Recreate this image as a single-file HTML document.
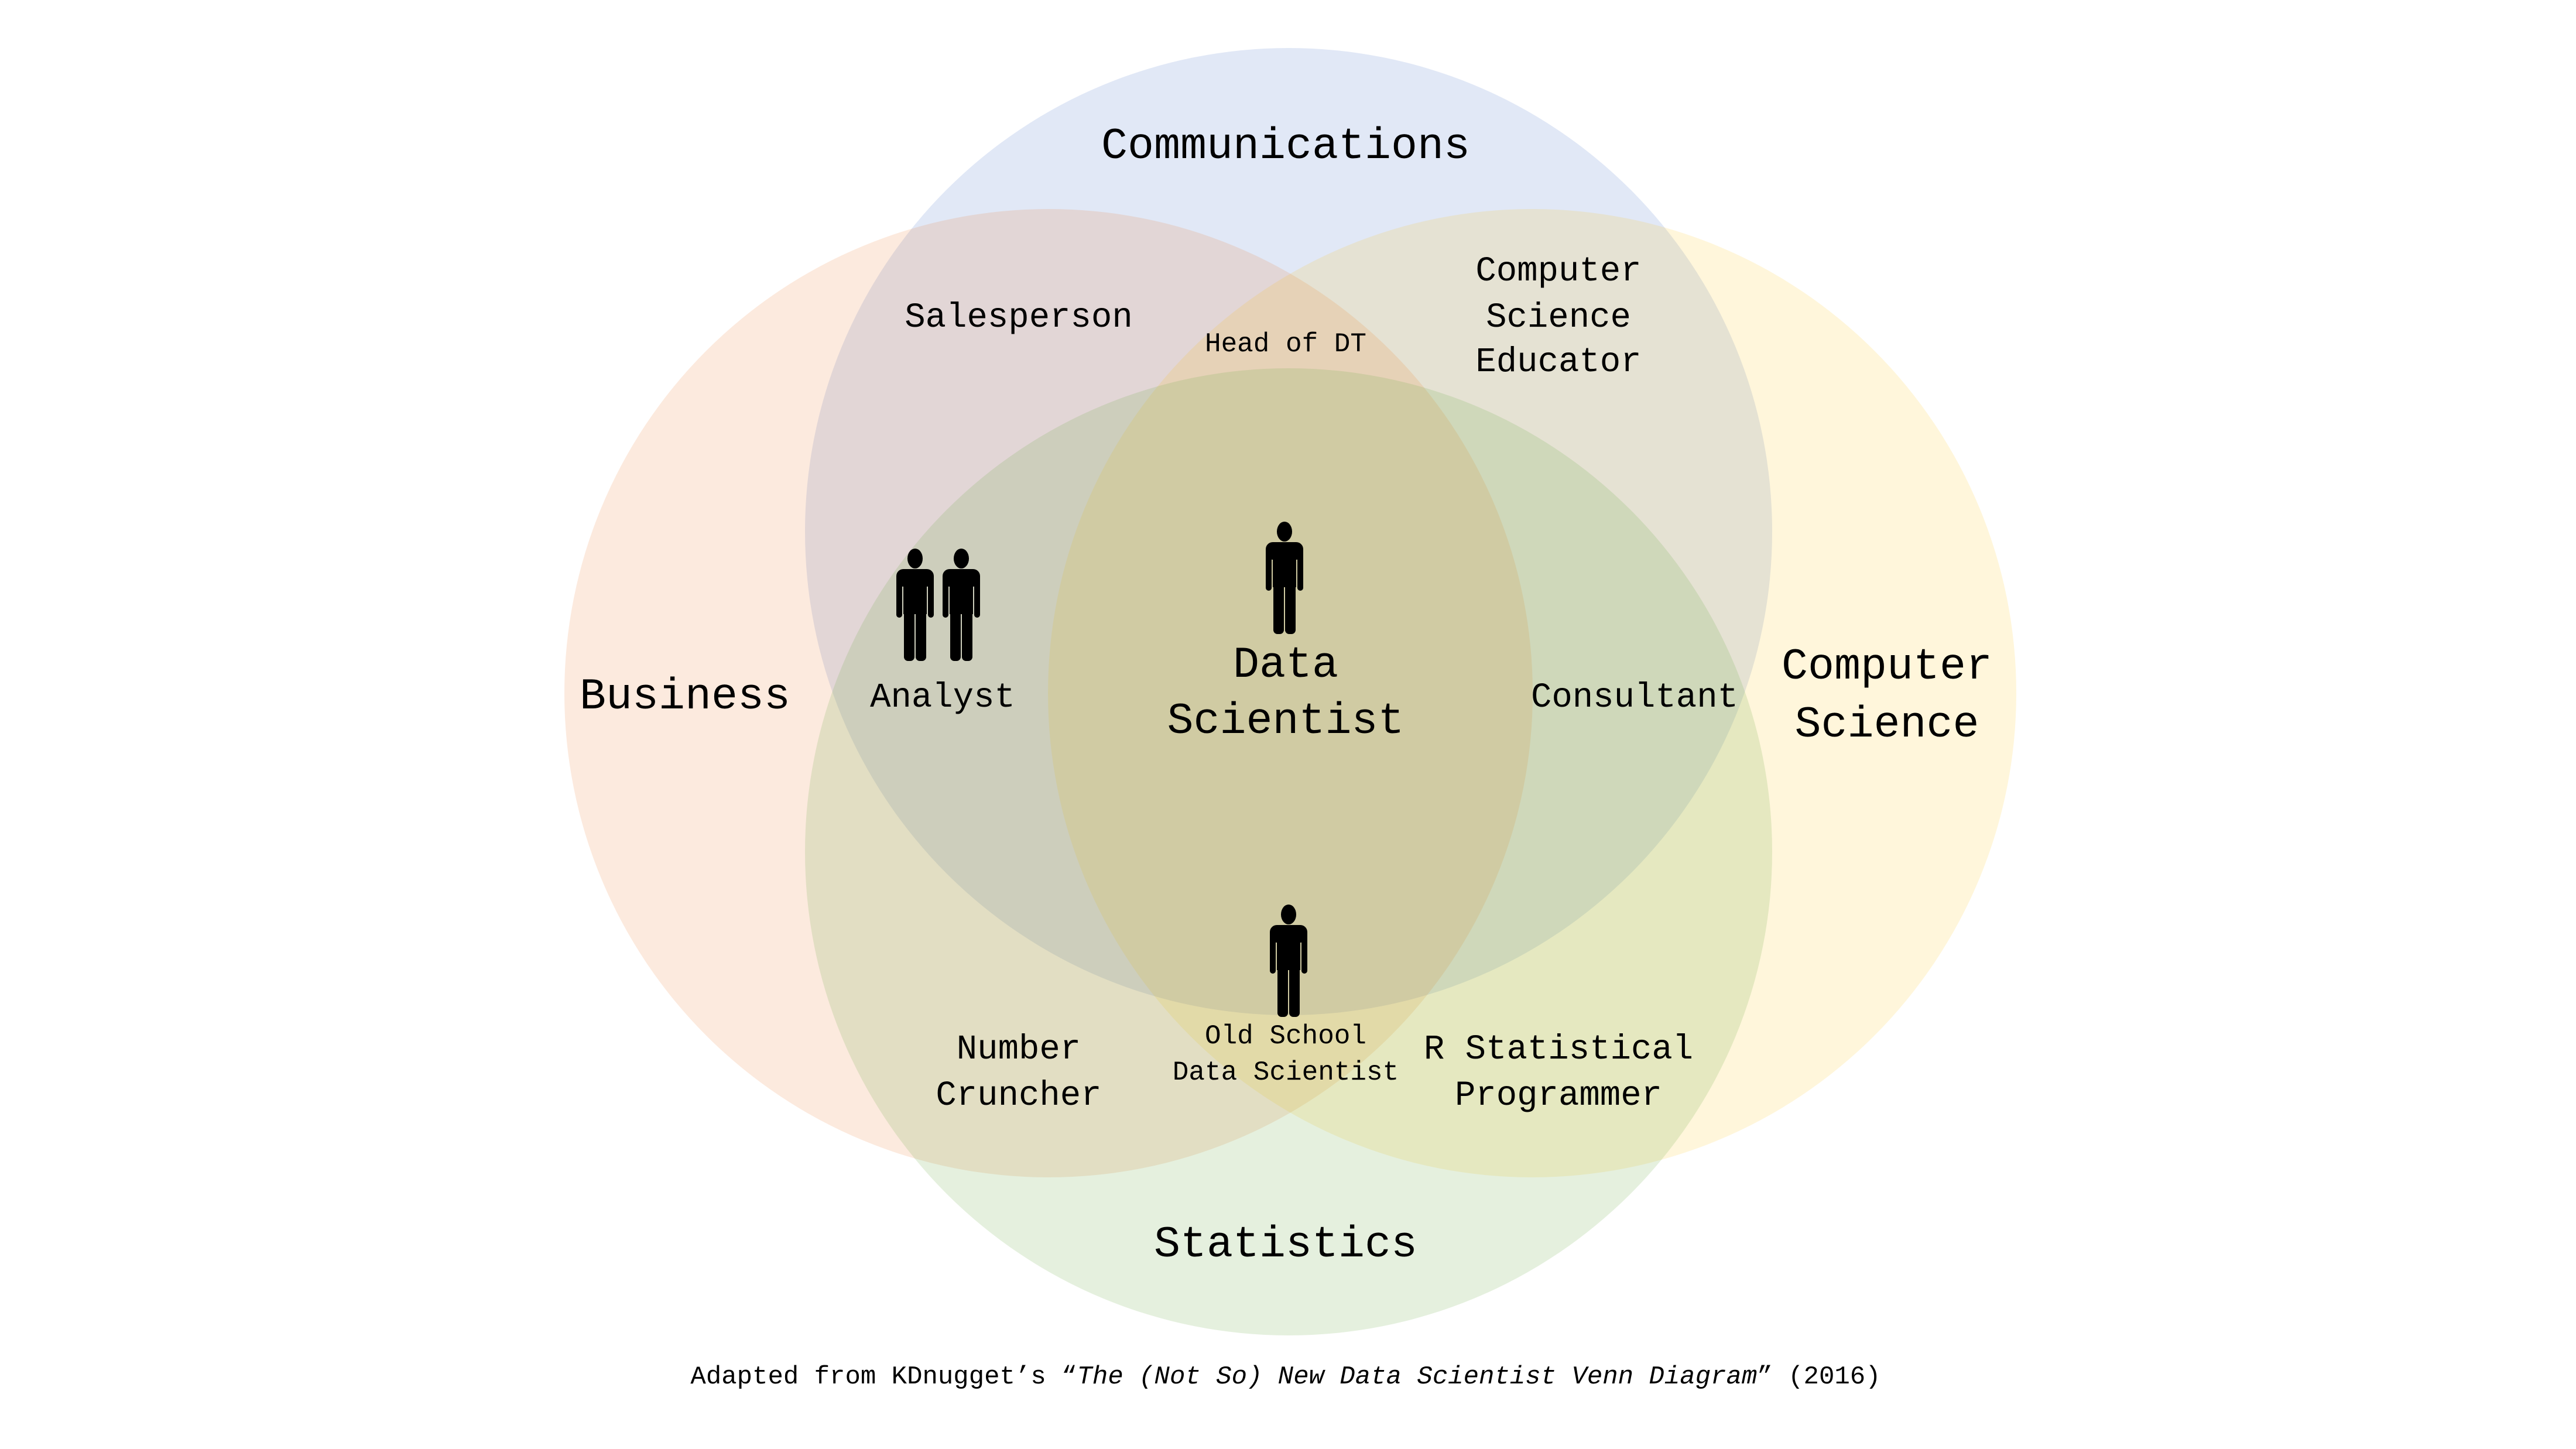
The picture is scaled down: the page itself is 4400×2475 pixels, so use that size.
<!DOCTYPE html>
<html><head><meta charset="utf-8"><style>
html,body{margin:0;padding:0;background:#fff}
svg{display:block}
text{font-family:"Liberation Mono","DejaVu Sans Mono",monospace;fill:#000;text-anchor:middle}
</style></head><body>
<svg width="4400" height="2475" viewBox="0 0 4400 2475" xmlns="http://www.w3.org/2000/svg">
<defs>
<g id="p">
<ellipse cx="32" cy="17" rx="13" ry="17"/>
<rect x="0" y="35" width="64" height="30" rx="12"/>
<rect x="12" y="40" width="40" height="72"/>
<rect x="0" y="45" width="10" height="73" rx="5"/>
<rect x="54" y="45" width="10" height="73" rx="5"/>
<rect x="13" y="100" width="18" height="92" rx="7"/>
<rect x="33" y="100" width="18" height="92" rx="7"/>
</g>
</defs>
<g transform="translate(-6,-6)">
<circle cx="2207" cy="914" r="826" fill="#4472c4" fill-opacity="0.16"/>
<circle cx="1797" cy="1190" r="827" fill="#ed7d31" fill-opacity="0.16"/>
<circle cx="2623" cy="1190" r="827" fill="#ffc000" fill-opacity="0.14"/>
<circle cx="2207" cy="1461" r="826" fill="#70ad47" fill-opacity="0.18"/>
<use href="#p" x="1537" y="943"/>
<use href="#p" x="1616" y="943"/>
<use href="#p" x="2168" y="897"/>
<use href="#p" x="2175" y="1551"/>
</g>
<g transform="translate(-12,-6)">
<text x="2208" y="276" font-size="75">Communications</text>
<text x="1752" y="564" font-size="59">Salesperson</text>
<text x="2208" y="606" font-size="46">Head of DT</text>
<text x="2674" y="485" font-size="59">Computer</text>
<text x="2674" y="564" font-size="59">Science</text>
<text x="2674" y="640" font-size="59">Educator</text>
<text x="1182" y="1216" font-size="75">Business</text>
<text x="1622" y="1213" font-size="59">Analyst</text>
<text x="2208" y="1162" font-size="75">Data</text>
<text x="2208" y="1258" font-size="75">Scientist</text>
<text x="2804" y="1213" font-size="59">Consultant</text>
<text x="3235" y="1165" font-size="75">Computer</text>
<text x="3235" y="1264" font-size="75">Science</text>
<text x="1752" y="1814" font-size="59">Number</text>
<text x="1752" y="1893" font-size="59">Cruncher</text>
<text x="2208" y="1788" font-size="46">Old School</text>
<text x="2208" y="1850" font-size="46">Data Scientist</text>
<text x="2674" y="1814" font-size="59">R Statistical</text>
<text x="2674" y="1893" font-size="59">Programmer</text>
<text x="2208" y="2152" font-size="75">Statistics</text>
<text x="2208" y="2369" font-size="44">Adapted from KDnugget’s “<tspan font-style="italic">The (Not So) New Data Scientist Venn Diagram</tspan>” (2016)</text>
</g>
</svg>
</body></html>
